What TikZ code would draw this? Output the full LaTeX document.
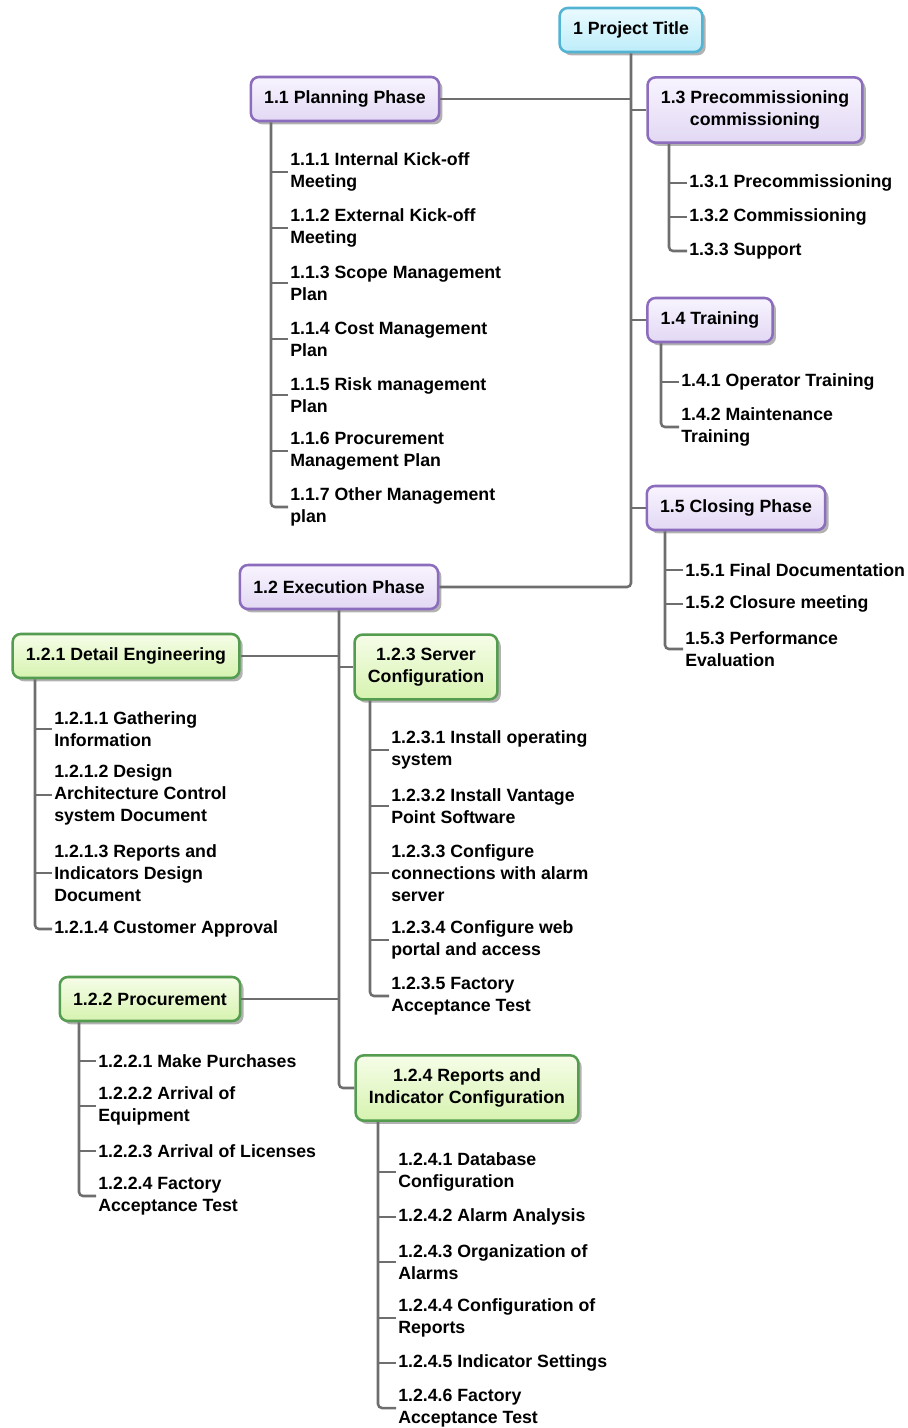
\documentclass[tikz,border=0pt]{standalone}
\usepackage{fontspec}
\setmainfont{Liberation Sans}
\usetikzlibrary{shadows}
\definecolor{wiregray}{HTML}{6E6E6E}
\definecolor{rootedge}{HTML}{52B4D2}
\definecolor{roottop}{HTML}{EAFAFE}
\definecolor{rootbot}{HTML}{BDEDFA}
\definecolor{phaseedge}{HTML}{8C6CBC}
\definecolor{phasetop}{HTML}{F8F4FE}
\definecolor{phasebot}{HTML}{E2D8F4}
\definecolor{taskedge}{HTML}{549C50}
\definecolor{tasktop}{HTML}{F6FDE8}
\definecolor{taskbot}{HTML}{D6F3B0}

\begin{document}
\begin{tikzpicture}[x=0.75pt,y=-0.75pt]
\useasboundingbox (0,0) rectangle (907,1428);
\tikzstyle{every node}=[font=\fontsize{13.3}{16.5}\selectfont\bfseries];
\tikzstyle{box}=[draw, line width=1.9pt, rounded corners=6pt, align=center, inner xsep=10pt, inner ysep=10pt, minimum height=33pt, drop shadow={shadow xshift=2.5pt, shadow yshift=-2.5pt, fill=black, opacity=.3}]
\tikzstyle{root}=[box, draw=rootedge, top color=roottop, bottom color=rootbot]
\tikzstyle{phase}=[box, draw=phaseedge, top color=phasetop, bottom color=phasebot]
\tikzstyle{task}=[box, draw=taskedge, top color=tasktop, bottom color=taskbot]
\tikzstyle{leaf}=[anchor=west, align=left, inner xsep=1.5pt, inner ysep=0pt, yshift=-1.5pt]
\tikzstyle{wire}=[draw=wiregray, line width=1.9pt, rounded corners=3pt]

\node[root] (v1) at (631,30) {1 Project Title};
\node[phase] (v11) at (345,99) {1.1 Planning Phase};
\node[phase] (v13) at (755,110) {1.3 Precommissioning\\commissioning};
\node[phase] (v14) at (710,320) {1.4 Training};
\node[phase] (v15) at (736,508) {1.5 Closing Phase};
\node[phase] (v12) at (339,587) {1.2 Execution Phase};
\node[task] (v121) at (126,656) {1.2.1 Detail Engineering};
\node[task] (v123) at (426,667) {1.2.3 Server\\Configuration};
\node[task] (v122) at (150,999) {1.2.2 Procurement};
\node[task] (v124) at (467,1088) {1.2.4 Reports and\\Indicator Configuration};

\node[leaf] (v111) at (288,170) {1.1.1 Internal Kick-off\\Meeting};
\node[leaf] (v112) at (288,226) {1.1.2 External Kick-off\\Meeting};
\node[leaf] (v113) at (288,281) {1.1.3 Scope Management\\Plan};
\node[leaf] (v114) at (288,337) {1.1.4 Cost Management\\Plan};
\node[leaf] (v115) at (288,393) {1.1.5 Risk management\\Plan};
\node[leaf] (v116) at (288,449) {1.1.6 Procurement\\Management Plan};
\node[leaf] (v117) at (288,505) {1.1.7 Other Management\\plan};

\node[leaf] (v131) at (687,181) {1.3.1 Precommissioning};
\node[leaf] (v132) at (687,215) {1.3.2 Commissioning};
\node[leaf] (v133) at (687,249) {1.3.3 Support};

\node[leaf] (v141) at (679,380) {1.4.1 Operator Training};
\node[leaf] (v142) at (679,425) {1.4.2 Maintenance\\Training};

\node[leaf] (v151) at (683,568) {1.5.1 Final Documentation};
\node[leaf] (v152) at (683,602) {1.5.2 Closure meeting};
\node[leaf] (v153) at (683,647) {1.5.3 Performance\\Evaluation};

\node[leaf] (v1211) at (52,727) {1.2.1.1 Gathering\\Information};
\node[leaf] (v1212) at (52,793) {1.2.1.2 Design\\Architecture Control\\system Document};
\node[leaf] (v1213) at (52,871) {1.2.1.3 Reports and\\Indicators Design\\Document};
\node[leaf] (v1214) at (52,927) {1.2.1.4 Customer Approval};

\node[leaf] (v1221) at (96,1059) {1.2.2.1 Make Purchases};
\node[leaf] (v1222) at (96,1104) {1.2.2.2 Arrival of\\Equipment};
\node[leaf] (v1223) at (96,1149) {1.2.2.3 Arrival of Licenses};
\node[leaf] (v1224) at (96,1194) {1.2.2.4 Factory\\Acceptance Test};

\node[leaf] (v1231) at (389,748) {1.2.3.1 Install operating\\system};
\node[leaf] (v1232) at (389,804) {1.2.3.2 Install Vantage\\Point Software};
\node[leaf] (v1233) at (389,871) {1.2.3.3 Configure\\connections with alarm\\server};
\node[leaf] (v1234) at (389,938) {1.2.3.4 Configure web\\portal and access};
\node[leaf] (v1235) at (389,994) {1.2.3.5 Factory\\Acceptance Test};

\node[leaf] (v1241) at (396,1170) {1.2.4.1 Database\\Configuration};
\node[leaf] (v1242) at (396,1215) {1.2.4.2 Alarm Analysis};
\node[leaf] (v1243) at (396,1260) {1.2.4.3 Organization of\\Alarms};
\node[leaf] (v1244) at (396,1316) {1.2.4.4 Configuration of\\Reports};
\node[leaf] (v1245) at (396,1361) {1.2.4.5 Indicator Settings};
\node[leaf] (v1246) at (396,1406) {1.2.4.6 Factory\\Acceptance Test};

\draw[wire] (v1.south) |- (v12.east);
\draw[wire] (v11.east) -- (v11.east -| v1.south);
\foreach \n in {13,14,15} \draw[wire] (v\n.west) -- (v\n.west -| v1.south);

\draw[wire] (v12.south) |- (v124.west);
\foreach \n in {121,122} \draw[wire] (v\n.east) -- (v\n.east -| v12.south);
\draw[wire] (v123.west) -- (v123.west -| v12.south);

\foreach \g/\x/\last in {11/271/7, 13/669/3, 14/661/2, 15/665/3, 121/35/4, 122/79/4, 123/370/5, 124/378/6} {
  \coordinate (s) at (\x,0);
  \pgfmathtruncatemacro\prev{\last-1}
  \draw[wire] (v\g.south -| s) |- (v\g\last.west);
  \foreach \k in {1,...,\prev} \draw[wire] (v\g\k.west) -- (v\g\k.west -| s);
}
\end{tikzpicture}
\end{document}
